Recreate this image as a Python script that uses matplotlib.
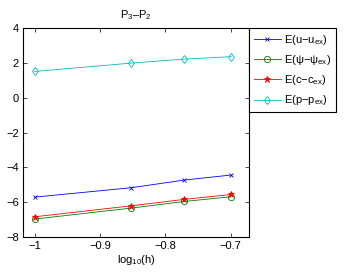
import matplotlib
matplotlib.use("Agg")
from matplotlib import pyplot as plt

logh = [-1.0, -0.852, -0.771, -0.699]
err_u = [-5.71, -5.17, -4.73, -4.44]
err_psi = [-6.97, -6.34, -5.96, -5.69]
err_c = [-6.84, -6.21, -5.84, -5.56]
err_p = [1.51, 1.99, 2.22, 2.36]

labels = [r'E(u$-$u$_{\rm ex}$)', r'E($\psi$$-$$\psi_{\rm ex}$)',
          r'E(c$-$c$_{\rm ex}$)', r'E(p$-$p$_{\rm ex}$)']
xticks = [-1, -0.9, -0.8, -0.7]
yticks = [-8, -6, -4, -2, 0, 2, 4]

plt.rcParams['font.family'] = ['Liberation Sans', 'DejaVu Sans']
plt.rcParams['font.size'] = 8
plt.rcParams['mathtext.fontset'] = 'custom'
plt.rcParams['mathtext.rm'] = 'Liberation Sans'
plt.rcParams['mathtext.it'] = 'Liberation Sans'
plt.rcParams['mathtext.default'] = 'regular'

fig = plt.figure(figsize=(3.54, 2.73), dpi=100)
ax = fig.add_axes([0.065, 0.132, 0.638, 0.765])

ax.plot(logh, err_u, color='b', marker='x', ms=3.5, lw=0.6, mew=0.6, label=labels[0])
ax.plot(logh, err_psi, color='g', marker='o', ms=4.5, lw=0.6, mew=0.6, mfc='none', label=labels[1])
ax.plot(logh, err_c, color='r', marker='*', ms=4.5, lw=0.6, mew=0.6, label=labels[2])
ax.plot(logh, err_p, color='c', marker='d', ms=4.5, lw=0.6, mew=0.6, mfc='none', label=labels[3])

ax.set_xlim(-1.018, -0.672)
ax.set_ylim(-8, 4)
ax.set_xticks(xticks)
ax.set_xticklabels(['\u22121', '\u22120.9', '\u22120.8', '\u22120.7'])
ax.set_yticks(yticks)
ax.set_yticklabels(['\u22128', '\u22126', '\u22124', '\u22122', '0', '2', '4'])
ax.tick_params(direction='in', top=True, right=True, length=3, width=0.5, pad=3)
for s in ax.spines.values():
    s.set_linewidth(0.8)

ax.set_title('P$_3$\u2013P$_2$', fontsize=8, pad=7)
ax.set_xlabel(r'log$_{10}$(h)', labelpad=1)

leg = ax.legend(loc='upper left', bbox_to_anchor=(1.0, 1.0), borderaxespad=0,
                fancybox=False, edgecolor='black', framealpha=1,
                handlelength=2.4, handletextpad=0.3, labelspacing=0.55,
                borderpad=0.45)
leg.get_frame().set_linewidth(0.8)

fig.savefig('out.png', dpi=100)
